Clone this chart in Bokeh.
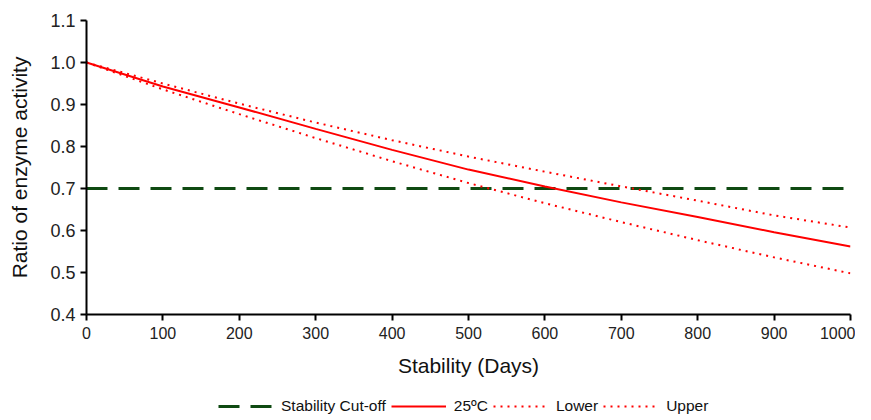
from bokeh.plotting import figure
from bokeh.layouts import column
from bokeh.models import Legend, LegendItem, Range1d, FixedTicker, NumeralTickFormatter
from bokeh.embed import file_html
from bokeh.resources import INLINE

days = [0, 100, 200, 300, 400, 500, 600, 700, 800, 900, 1000]
main_25c = [1.0, 0.943, 0.893, 0.842, 0.792, 0.745, 0.705, 0.667, 0.632, 0.596, 0.562]
upper = [1.0, 0.950, 0.902, 0.857, 0.815, 0.776, 0.740, 0.705, 0.671, 0.636, 0.607]
lower = [1.0, 0.936, 0.877, 0.820, 0.765, 0.713, 0.665, 0.620, 0.577, 0.536, 0.498]
cutoff_x = [0, 1000]
cutoff_y = [0.7, 0.7]
x_ticks = [0, 100, 200, 300, 400, 500, 600, 700, 800, 900, 1000]
y_ticks = [0.4, 0.5, 0.6, 0.7, 0.8, 0.9, 1.0, 1.1]
series_names = ["Stability Cut-off", "25ºC", "Lower", "Upper"]

FONT = "Liberation Sans"
CUT_STYLE = dict(line_color="#0f4a12", line_width=3, line_dash="21 11")
MAIN_STYLE = dict(line_color="#ff0000", line_width=2)
DOT_STYLE = dict(line_color="#ff0000", line_width=2, line_dash="2 5")

p = figure(width=855, height=380, output_backend="svg", toolbar_location=None,
           x_range=Range1d(0, 1000), y_range=Range1d(0.4, 1.1),
           min_border_left=86, min_border_right=5, min_border_top=20, min_border_bottom=66)
p.outline_line_color = None
p.xgrid.visible = False
p.ygrid.visible = False

p.line(cutoff_x, cutoff_y, **CUT_STYLE)
p.line(days, main_25c, **MAIN_STYLE)
p.line(days, lower, **DOT_STYLE)
p.line(days, upper, **DOT_STYLE)

for ax in (p.xaxis[0], p.yaxis[0]):
    ax.axis_line_width = 2
    ax.axis_line_color = "black"
    ax.major_tick_line_width = 2
    ax.major_tick_line_color = "black"
    ax.major_tick_out = 6
    ax.major_tick_in = 0
    ax.minor_tick_line_color = None
    ax.major_label_text_font = FONT
    ax.major_label_text_color = "#222222"
    ax.axis_label_text_font = FONT
    ax.axis_label_text_font_size = "21px"
    ax.axis_label_text_font_style = "normal"
    ax.axis_label_text_color = "#111111"

p.xaxis.major_label_text_font_size = "16px"
p.yaxis.major_label_text_font_size = "18px"
p.xaxis.ticker = FixedTicker(ticks=x_ticks)
p.yaxis.ticker = FixedTicker(ticks=y_ticks)
p.yaxis.formatter = NumeralTickFormatter(format="0.0")
p.xaxis.axis_label = "Stability (Days)"
p.yaxis.axis_label = "Ratio of enzyme activity"
p.xaxis.major_label_standoff = 6
p.xaxis.axis_label_standoff = 12
p.yaxis.major_label_standoff = 5
p.yaxis.axis_label_standoff = 16

# legend strip below the chart (series drawn outside its visible range, only the legend shows)
lg = figure(width=855, height=40, output_backend="svg", toolbar_location=None,
            x_range=Range1d(0, 1000), y_range=Range1d(0, 0.1),
            min_border_left=0, min_border_right=0, min_border_top=0, min_border_bottom=0)
lg.axis.visible = False
lg.grid.visible = False
lg.outline_line_color = None
l_cut = lg.line(cutoff_x, cutoff_y, **CUT_STYLE)
l_main = lg.line(days, main_25c, **MAIN_STYLE)
l_low = lg.line(days, lower, **DOT_STYLE)
l_up = lg.line(days, upper, **DOT_STYLE)

legend = Legend(items=[
    LegendItem(label=series_names[0], renderers=[l_cut]),
    LegendItem(label=series_names[1], renderers=[l_main]),
    LegendItem(label=series_names[2], renderers=[l_low]),
    LegendItem(label=series_names[3], renderers=[l_up]),
], orientation="horizontal", location=(132, 4))
legend.label_text_font = FONT
legend.label_text_font_size = "15.5px"
legend.label_text_color = "#111111"
legend.glyph_width = 55
legend.label_standoff = 8
legend.spacing = 5
legend.border_line_color = None
legend.background_fill_alpha = 0
legend.padding = 0
legend.margin = 0
lg.add_layout(legend, "center")

layout = column(p, lg, spacing=0)
open("out.html", "w").write(file_html(layout, INLINE))
